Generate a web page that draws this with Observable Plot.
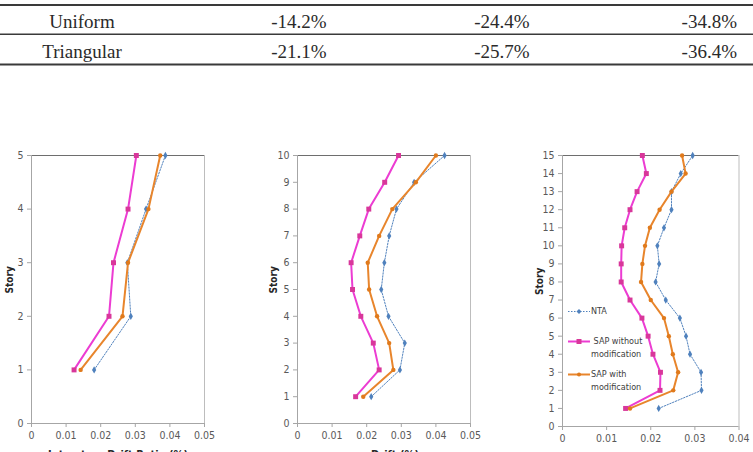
<!DOCTYPE html>
<html><head><meta charset="utf-8">
<script src="https://cdn.jsdelivr.net/npm/d3@7"></script>
<script src="https://cdn.jsdelivr.net/npm/@observablehq/plot@0.6"></script>
<style>
html,body{margin:0;padding:0;background:#fff;width:753px;height:452px;overflow:hidden;}
#page{position:relative;width:753px;height:452px;overflow:hidden;}
.panel{position:absolute;top:140px;}
.legend{position:absolute;font-family:"Liberation Sans Narrow","Arial Narrow","DejaVu Sans Condensed",sans-serif;font-size:9px;color:#404040;line-height:13px;}
</style></head><body><div id="page"></div>
<script>
// ---- table ----
const tableRows = ["Uniform", "Triangular"];
const tableValues = [["-14.2%", "-24.4%", "-34.8%"], ["-21.1%", "-25.7%", "-36.4%"]];

// ---- series ----
const seriesNames = ["NTA", "SAP without modification", "SAP with modification"];

const stories5 = [1, 2, 3, 4, 5];
const nta5 = [0.0181, 0.0287, 0.0277, 0.0331, 0.0387];
const sapNo5 = [0.0123, 0.0224, 0.0237, 0.0279, 0.0303];
const sapMod5 = [0.0142, 0.0263, 0.0279, 0.0338, 0.0372];

const stories10 = [1, 2, 3, 4, 5, 6, 7, 8, 9, 10];
const nta10 = [0.0213, 0.0296, 0.0310, 0.0263, 0.0242, 0.0251, 0.0265, 0.0286, 0.0337, 0.0425];
const sapNo10 = [0.0168, 0.0236, 0.0219, 0.0183, 0.0159, 0.0155, 0.0180, 0.0206, 0.0252, 0.0292];
const sapMod10 = [0.0190, 0.0277, 0.0265, 0.0230, 0.0207, 0.0203, 0.0236, 0.0274, 0.0342, 0.0400];

const stories15 = [1, 2, 3, 4, 5, 6, 7, 8, 9, 10, 11, 12, 13, 14, 15];
const nta15 = [0.0218, 0.0315, 0.0314, 0.0289, 0.0280, 0.0266, 0.0234, 0.0211, 0.0219, 0.0215, 0.0230, 0.0247, 0.0247, 0.0268, 0.0295];
const sapNo15 = [0.0143, 0.0221, 0.0222, 0.0205, 0.0194, 0.0180, 0.0153, 0.0133, 0.0133, 0.0134, 0.0141, 0.0153, 0.0169, 0.0190, 0.0181];
const sapMod15 = [0.0153, 0.0251, 0.0262, 0.0250, 0.0241, 0.0230, 0.0200, 0.0178, 0.0181, 0.0187, 0.0198, 0.0220, 0.0247, 0.0279, 0.0271];

// ---- ticks ----
const xTicks5 = [0, 0.01, 0.02, 0.03, 0.04, 0.05];
const xTicks4 = [0, 0.01, 0.02, 0.03, 0.04];
const yTicks5 = [0, 1, 2, 3, 4, 5];
const yTicks10 = [0, 1, 2, 3, 4, 5, 6, 7, 8, 9, 10];
const yTicks15 = [0, 1, 2, 3, 4, 5, 6, 7, 8, 9, 10, 11, 12, 13, 14, 15];
const xTitles = ["Interstory Drift Ratio (%)", "Drift (%)", ""];
const yTitle = "Story";

const colors = {nta: "#4f81bd", no: "#ec3cd2", noMark: "#d8379a", mod: "#e8852c", modMark: "#e07a1c"};
const tickFont = '"Liberation Sans Narrow","Arial Narrow","DejaVu Sans Condensed",sans-serif';

const page = d3.select("#page");

// table drawn as svg
const tsvg = page.append("svg").attr("width", 753).attr("height", 70)
  .style("position", "absolute").style("left", "0px").style("top", "0px");
[[4, 2], [33.5, 1.5], [63.5, 2]].forEach(([y, h]) =>
  tsvg.append("rect").attr("x", 0).attr("y", y).attr("width", 753).attr("height", h).attr("fill", "#3a3a3a"));
const colX = [82, 299, 502, 737];
const rowY = [27.5, 57.5];
tableRows.forEach((r, i) => {
  const g = tsvg.append("g").attr("font-family", '"Liberation Serif","Times New Roman",serif')
    .attr("font-size", 19).attr("fill", "#2a2a2a");
  g.append("text").attr("x", colX[0]).attr("y", rowY[i]).attr("text-anchor", "middle").text(r);
  tableValues[i].forEach((v, j) => {
    g.append("text").attr("x", colX[j + 1]).attr("y", rowY[i])
      .attr("text-anchor", j === 2 ? "end" : "middle").text(v);
  });
});

function makeRows(stories, nta, no, mod) {
  return {
    nta: stories.map((s, i) => ({story: s, drift: nta[i]})),
    no: stories.map((s, i) => ({story: s, drift: no[i]})),
    mod: stories.map((s, i) => ({story: s, drift: mod[i]}))
  };
}

function panel({left, width, ml, mr, mb, xDomain, xTicks, yTicks, rows, xTitle, yDx, xTitleDx}) {
  const yMax = yTicks[yTicks.length - 1];
  const p = Plot.plot({
    width, height: 312,
    marginLeft: ml, marginRight: mr, marginTop: 15, marginBottom: mb,
    style: {fontFamily: tickFont, fontSize: "10.5px", color: "#595959", background: "#fff", overflow: "visible"},
    x: {domain: xDomain, ticks: xTicks, tickFormat: d => d === 0 ? "0" : String(d), label: null, tickSize: 4, tickPadding: 4},
    y: {domain: [0, yMax], ticks: yTicks, tickFormat: d => String(d), label: null, tickSize: 4, tickPadding: 4},
    marks: [
      Plot.ruleY([yMax], {stroke: "#6e6e6e", strokeWidth: 1.2}),
      Plot.ruleX([xDomain[1]], {stroke: "#bdbdbd", strokeWidth: 1}),
      Plot.ruleX([0], {stroke: "#a6a6a6", strokeWidth: 1}),
      Plot.ruleY([0], {stroke: "#a6a6a6", strokeWidth: 1}),
      Plot.axisX({ticks: xTicks, tickFormat: d => d === 0 ? "0" : String(d), tickSize: 4, tickPadding: 4, stroke: "#a6a6a6", label: null}),
      Plot.axisY({ticks: yTicks, tickFormat: d => String(d), tickSize: 4, tickPadding: 4, stroke: "#a6a6a6", label: null}),
      Plot.line(rows.nta, {x: "drift", y: "story", stroke: colors.nta, strokeWidth: 1, strokeDasharray: "1.5,1.5"}),
      Plot.dot(rows.nta, {x: "drift", y: "story", symbol: "diamond", r: 2.2, fill: colors.nta}),
      Plot.line(rows.no, {x: "drift", y: "story", stroke: colors.no, strokeWidth: 2}),
      Plot.dot(rows.no, {x: "drift", y: "story", symbol: "square", r: 2.8, fill: colors.noMark}),
      Plot.line(rows.mod, {x: "drift", y: "story", stroke: colors.mod, strokeWidth: 2}),
      Plot.dot(rows.mod, {x: "drift", y: "story", symbol: "circle", r: 2.2, fill: colors.modMark}),
      Plot.text([yTitle], {frameAnchor: "left", dx: yDx, dy: 4, rotate: -90, fontWeight: "bold", fontSize: 10, fill: "#262626"}),
      xTitle ? Plot.text([xTitle], {frameAnchor: "bottom", dx: xTitleDx, dy: 34, fontWeight: "bold", fontSize: 11, fill: "#262626"}) : null
    ]
  });
  const d = page.append("div").attr("class", "panel").style("left", left + "px");
  d.node().appendChild(p);
}

panel({left: 0, width: 250, ml: 31, mr: 46, mb: 29, xDomain: [0, 0.05], xTicks: xTicks5, yTicks: yTicks5,
  rows: makeRows(stories5, nta5, sapNo5, sapMod5), xTitle: xTitles[0], yDx: -21.5, xTitleDx: 0});
panel({left: 250, width: 250, ml: 47, mr: 30, mb: 29, xDomain: [0, 0.05], xTicks: xTicks5, yTicks: yTicks10,
  rows: makeRows(stories10, nta10, sapNo10, sapMod10), xTitle: xTitles[1], yDx: -24, xTitleDx: 11});
panel({left: 500, width: 253, ml: 62, mr: 14.5, mb: 26, xDomain: [0, 0.04], xTicks: xTicks4, yTicks: yTicks15,
  rows: makeRows(stories15, nta15, sapNo15, sapMod15), xTitle: xTitles[2], yDx: -23, xTitleDx: 0});

// legend (panel 3)
const legendItems = [
  {name: seriesNames[0], lines: ["NTA"], stroke: colors.nta, mark: colors.nta, dash: "1.5,1.5", w: 1, sym: "diamond", top: 305},
  {name: seriesNames[1], lines: ["\u00a0SAP without", "modification"], stroke: colors.no, mark: colors.noMark, dash: null, w: 2, sym: "square", top: 335},
  {name: seriesNames[2], lines: ["SAP with", "modification"], stroke: colors.mod, mark: colors.modMark, dash: null, w: 2, sym: "circle", top: 368}
];
legendItems.forEach(it => {
  const box = page.append("div").attr("class", "legend")
    .style("left", "567px").style("top", it.top + "px")
    .style("display", "flex").style("align-items", "flex-start");
  const s = box.append("svg").attr("width", 24).attr("height", 13).style("flex", "none");
  s.append("line").attr("x1", 1).attr("x2", 23).attr("y1", 6.5).attr("y2", 6.5)
    .attr("stroke", it.stroke).attr("stroke-width", it.w).attr("stroke-dasharray", it.dash);
  if (it.sym === "square") s.append("rect").attr("x", 9.5).attr("y", 4).attr("width", 5).attr("height", 5).attr("fill", it.mark);
  else if (it.sym === "diamond") s.append("path").attr("d", "M12,4L14.5,6.5L12,9L9.5,6.5Z").attr("fill", it.mark);
  else s.append("circle").attr("cx", 12).attr("cy", 6.5).attr("r", 2).attr("fill", it.mark);
  const t = box.append("div");
  it.lines.forEach(l => t.append("div").text(l));
});
</script></body></html>
